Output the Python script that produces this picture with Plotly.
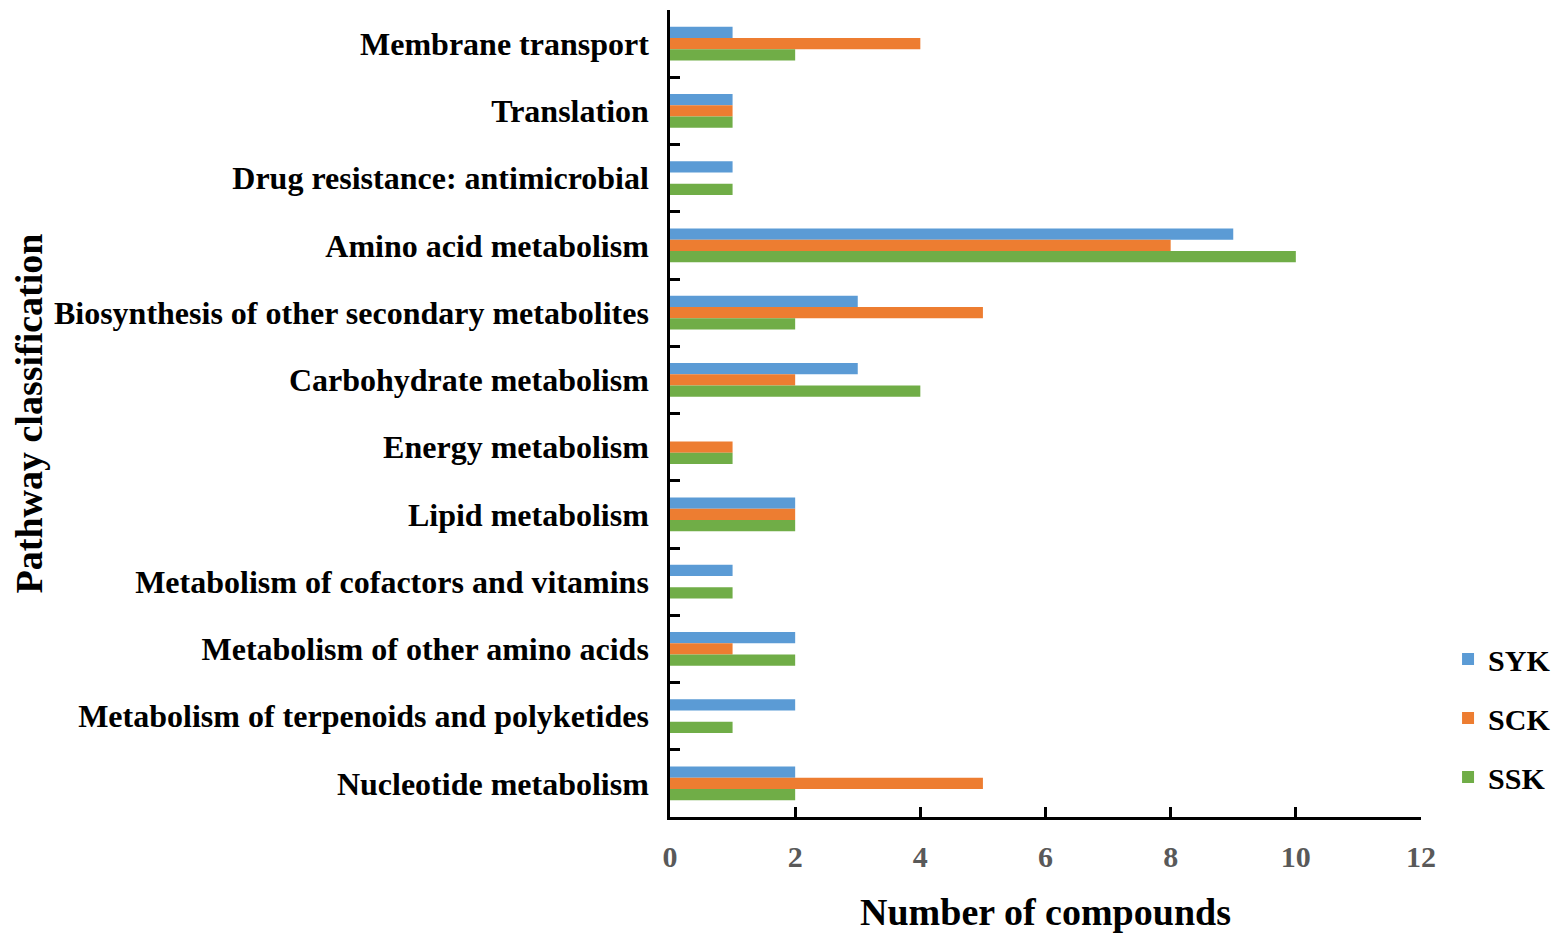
import plotly.graph_objects as go

# categories listed top to bottom as in the figure
pathways = [
    "Membrane transport",
    "Translation",
    "Drug resistance: antimicrobial",
    "Amino acid metabolism",
    "Biosynthesis of other secondary metabolites",
    "Carbohydrate metabolism",
    "Energy metabolism",
    "Lipid metabolism",
    "Metabolism of cofactors and vitamins",
    "Metabolism of other amino acids",
    "Metabolism of terpenoids and polyketides",
    "Nucleotide metabolism",
]
syk = [1, 1, 1, 9, 3, 3, 0, 2, 1, 2, 2, 2]
sck = [4, 1, 0, 8, 5, 2, 1, 2, 0, 1, 0, 5]
ssk = [2, 1, 1, 10, 2, 4, 1, 2, 1, 2, 1, 2]

series = [("SYK", syk, "#5B9BD5"), ("SCK", sck, "#ED7D31"), ("SSK", ssk, "#70AD47")]

FONT = "Liberation Serif"

fig = go.Figure()
for name, vals, col in series:
    fig.add_trace(go.Bar(
        y=pathways, x=vals, name=name, orientation="h",
        marker=dict(color=col, line=dict(width=0)),
        legendgroup=name,
    ))

# page body adds ~8px offset, margins compensate for it
fig.update_layout(
    barmode="group",
    bargap=0.5,
    bargroupgap=0,
    width=1559, height=941,
    margin=dict(l=662, r=146, t=2, b=132),
    plot_bgcolor="white",
    paper_bgcolor="white",
    font=dict(family=FONT, color="black"),
    showlegend=True,
    legend=dict(
        x=1.036, y=0.228, xanchor="left", yanchor="top",
        font=dict(family=FONT, size=30, color="black", weight="bold"),
        tracegroupgap=17,
        itemwidth=30,
    ),
    xaxis=dict(
        range=[0, 12], dtick=2, showgrid=False, zeroline=False,
        showline=True, linecolor="black", linewidth=2.5,
        ticks="inside", ticklen=10, tickwidth=2.5, tickcolor="black",
        tickfont=dict(family=FONT, size=30, color="#595959", weight="bold"),
        ticklabelstandoff=11,
        title=dict(text="Number of compounds", standoff=27,
                   font=dict(family=FONT, size=38, color="black", weight="bold")),
    ),
    yaxis=dict(
        autorange="reversed", showgrid=False, zeroline=False,
        showline=True, linecolor="black", linewidth=2.5,
        ticks="inside", tickson="boundaries", ticklen=10, tickwidth=2.5, tickcolor="black",
        tickfont=dict(family=FONT, size=32, color="black", weight="bold"),
        ticklabelstandoff=12,
        # trailing spaces nudge the rotated title down like the original
        title=dict(text="Pathway classification" + "\u00a0" * 6, standoff=6,
                   font=dict(family=FONT, size=38, color="black", weight="bold")),
    ),
)

fig.write_html("out.html")
